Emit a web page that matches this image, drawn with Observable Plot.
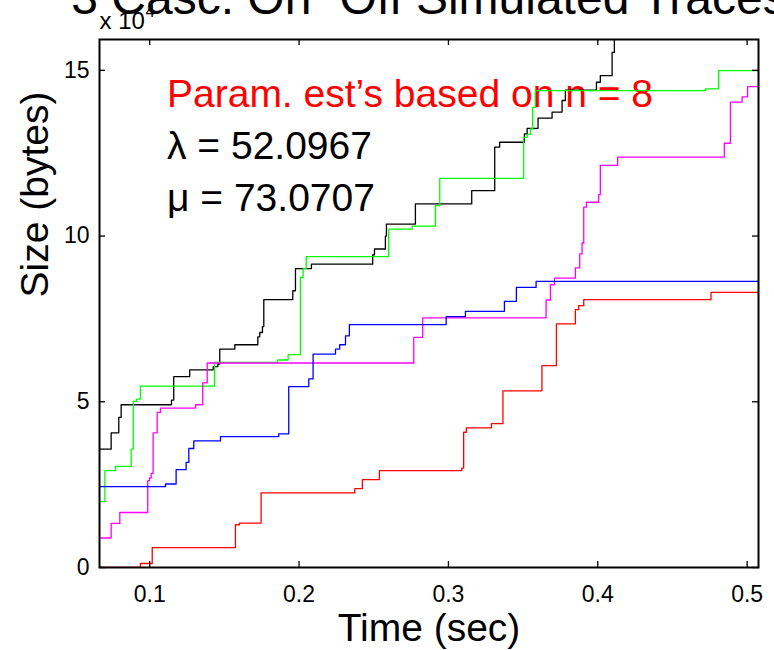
<!DOCTYPE html>
<html><head><meta charset="utf-8">
<script src="https://cdn.jsdelivr.net/npm/d3@7"></script>
<script src="https://cdn.jsdelivr.net/npm/@observablehq/plot@0.6"></script>
<style>body{margin:0;background:#fff}</style>
</head><body><div id="chart"></div>
<script>
const xTicks = [0.1, 0.2, 0.3, 0.4, 0.5];
const yTicks = [0, 5, 10, 15];

// Sizes in units of 10^4 bytes
const blackTime = [0.0664, 0.0742, 0.0793, 0.0809, 0.1146, 0.1161, 0.1268, 0.1425, 0.1456, 0.1469, 0.1570, 0.1724, 0.1737, 0.1755, 0.1764, 0.1958, 0.1976, 0.2083, 0.2493, 0.2505, 0.2578, 0.2585, 0.2779, 0.3156, 0.3310, 0.3343, 0.3509, 0.3527, 0.3600, 0.3694, 0.3761, 0.3783, 0.3991, 0.4017, 0.4096, 0.4111];
const blackSize = [3.57, 4.06, 4.53, 4.91, 5.05, 5.76, 5.96, 6.06, 6.14, 6.59, 6.72, 6.96, 7.09, 7.27, 8.08, 8.35, 9.02, 9.15, 9.43, 9.61, 10.0, 10.36, 10.97, 11.37, 12.68, 12.83, 13.08, 13.25, 13.56, 13.74, 14.09, 14.40, 14.64, 14.84, 15.54, 16.5];

const greenTime = [0.0664, 0.0700, 0.0771, 0.0876, 0.0890, 0.0912, 0.0938, 0.1434, 0.1857, 0.1927, 0.2009, 0.2027, 0.2048, 0.2600, 0.2757, 0.2913, 0.2942, 0.3504, 0.3527, 0.3549, 0.3564, 0.3582, 0.4720, 0.4809, 0.5076];
const greenSize = [1.99, 2.92, 3.05, 3.57, 5.01, 5.08, 5.47, 6.19, 6.26, 6.42, 8.75, 9.02, 9.38, 10.21, 10.30, 10.92, 11.74, 12.98, 13.07, 13.23, 13.88, 14.39, 14.44, 14.99, 14.99];

const magentaTime = [0.0664, 0.0742, 0.0800, 0.0987, 0.0999, 0.1010, 0.1023, 0.1050, 0.1072, 0.1307, 0.1355, 0.1385, 0.2768, 0.2828, 0.3654, 0.3683, 0.3710, 0.3850, 0.3879, 0.3895, 0.3906, 0.3924, 0.4006, 0.4017, 0.4133, 0.4847, 0.4888, 0.4966, 0.5003, 0.5076];
const magentaSize = [0.89, 1.33, 1.66, 2.62, 2.70, 2.84, 4.06, 4.68, 4.81, 4.91, 5.57, 6.17, 6.94, 7.53, 8.07, 8.53, 8.73, 9.04, 9.46, 9.79, 10.87, 11.02, 11.25, 12.13, 12.38, 12.80, 14.04, 14.20, 14.51, 14.51];

const blueTime = [0.0664, 0.1106, 0.1177, 0.1244, 0.1262, 0.1295, 0.1474, 0.1864, 0.1931, 0.2065, 0.2094, 0.2244, 0.2272, 0.2311, 0.2337, 0.2985, 0.3114, 0.3375, 0.3455, 0.3587, 0.5076];
const blueSize = [2.44, 2.52, 2.95, 3.17, 3.59, 3.82, 3.95, 4.03, 5.46, 5.69, 6.44, 6.59, 6.72, 6.99, 7.33, 7.57, 7.73, 8.03, 8.45, 8.63, 8.63];

const redTime = [0.0664, 0.0938, 0.1017, 0.1574, 0.1601, 0.1746, 0.2373, 0.2424, 0.2538, 0.3089, 0.3102, 0.3120, 0.3288, 0.3365, 0.3626, 0.3723, 0.3850, 0.3872, 0.3906, 0.4758, 0.5076];
const redSize = [0.00, 0.12, 0.60, 1.29, 1.34, 2.25, 2.38, 2.65, 2.92, 3.00, 4.08, 4.21, 4.34, 5.33, 6.09, 7.35, 7.78, 7.90, 8.08, 8.30, 8.30];

const seriesList = [
  {name: "black", color: "#000000", t: blackTime, s: blackSize},
  {name: "green", color: "#00ff00", t: greenTime, s: greenSize},
  {name: "magenta", color: "#ff00ff", t: magentaTime, s: magentaSize},
  {name: "blue", color: "#0000ff", t: blueTime, s: blueSize},
  {name: "red", color: "#ff0000", t: redTime, s: redSize}
];
const toRows = (ser) => ser.t.map((t, i) => ({t, s: ser.s[i]}));

const W = 774, H = 650, mL = 99, mR = 16, mT = 39, mB = 83;
const innerW = W - mL - mR, innerH = H - mT - mB;
const font = "'Liberation Sans', Arial, Helvetica, sans-serif";

const lineMarks = seriesList.map(ser =>
  Plot.line(toRows(ser), {x: "t", y: "s", curve: "step-after", stroke: ser.color, strokeWidth: 1.3, clip: true})
);

const chart = Plot.plot({
  width: W, height: H,
  marginLeft: mL, marginRight: mR, marginTop: mT, marginBottom: mB,
  style: {fontFamily: font, background: "#fff", color: "#000"},
  x: {domain: [0.0664, 0.5076]},
  y: {domain: [0, 15.93]},
  marks: [
    Plot.text(["Param. est\u2019s based on n = 8"], {frameAnchor: "top-left", dx: 67.5, dy: 67, text: d => d, fill: "#ff0000", fontSize: 39, textAnchor: "start", lineAnchor: "bottom"}),
    Plot.text(["\u03bb = 52.0967"], {frameAnchor: "top-left", dx: 67.5, dy: 119, text: d => d, fill: "#000", fontSize: 39, textAnchor: "start", lineAnchor: "bottom"}),
    Plot.text(["\u03bc = 73.0707"], {frameAnchor: "top-left", dx: 67.5, dy: 171, text: d => d, fill: "#000", fontSize: 39, textAnchor: "start", lineAnchor: "bottom"}),
    ...lineMarks,
    Plot.frame({stroke: "#000", strokeWidth: 2}),
    Plot.tickX(xTicks, {x: d => d, insetTop: innerH - 6, stroke: "#000", strokeWidth: 1.3}),
    Plot.tickX(xTicks, {x: d => d, insetBottom: innerH - 6, stroke: "#000", strokeWidth: 1.3}),
    Plot.tickY(yTicks, {y: d => d, insetRight: innerW - 6, stroke: "#000", strokeWidth: 1.3}),
    Plot.tickY(yTicks, {y: d => d, insetLeft: innerW - 6, stroke: "#000", strokeWidth: 1.3}),
    Plot.axisX({ticks: xTicks, tickSize: 0, tickPadding: 18, fontSize: 23, tickFormat: d => d.toFixed(1), label: null}),
    Plot.axisY({ticks: yTicks, tickSize: 0, tickPadding: 10, fontSize: 23, tickFormat: d => String(d), label: null}),
    Plot.text(["Time (sec)"], {frameAnchor: "bottom", dy: 73, text: d => d, fontSize: 39, lineAnchor: "bottom", fill: "#000"}),
    Plot.text(["Size (bytes)"], {frameAnchor: "left", dx: -52, dy: -6, rotate: -90, text: d => d, fontSize: 39, lineAnchor: "bottom", fill: "#000"}),
    Plot.text(["3 Casc. On\u2212Off Simulated Traces"], {frameAnchor: "top", dy: -26, text: d => d, fontSize: 48, lineAnchor: "bottom", fill: "#000"}),
    Plot.text(["x 10"], {frameAnchor: "top-left", dx: 0, dy: -11, text: d => d, fontSize: 24, textAnchor: "start", lineAnchor: "bottom", fill: "#000"}),
    Plot.text(["4"], {frameAnchor: "top-left", dx: 46, dy: -23, text: d => d, fontSize: 17, textAnchor: "start", lineAnchor: "bottom", fill: "#000"})
  ]
});
document.getElementById("chart").appendChild(chart);
</script>
</body></html>
